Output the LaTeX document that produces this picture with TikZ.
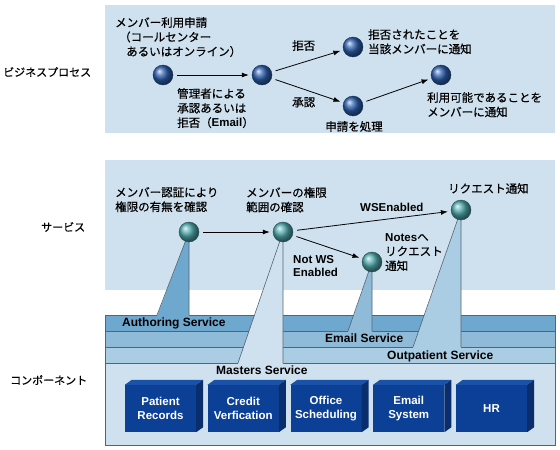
\documentclass[tikz,border=0pt]{standalone}
\usepackage{fontspec}
\setmainfont{Liberation Sans}
\newfontfamily\jp{Noto Sans CJK JP}[FakeBold=0.5]
\usetikzlibrary{arrows.meta}
\definecolor{panelbg}{RGB}{207,225,238}
\definecolor{laya}{RGB}{111,168,207}
\definecolor{laye}{RGB}{143,187,217}
\definecolor{layo}{RGB}{171,205,227}
\definecolor{laym}{RGB}{207,225,238}
\definecolor{edge}{RGB}{85,100,115}
\definecolor{cmpfront}{RGB}{12,64,150}
\definecolor{cmpside}{RGB}{10,45,110}
\definecolor{cmptop}{RGB}{25,82,168}
\definecolor{bpblue}{RGB}{45,95,175}
\definecolor{svteal}{RGB}{80,170,175}
\begin{document}
\begin{tikzpicture}[x=1pt,y=-1pt,
	jlab/.style={anchor=north west,inner sep=0pt,align=left,font=\jp\fontsize{11.5}{14.5}\selectfont},
	elab/.style={anchor=north west,inner sep=0pt,align=left,font=\bfseries\fontsize{11.5}{13}\selectfont},
	laylab/.style={anchor=north west,inner sep=0pt,font=\bfseries\fontsize{12}{14}\selectfont},
	sidelab/.style={anchor=west,inner sep=0pt,font=\jp\fontsize{11}{13}\selectfont},
	bpball/.style={circle,minimum size=20pt,inner sep=0pt,ball color=bpblue,draw=bpblue!50!black,line width=0.4pt},
	svball/.style={circle,minimum size=20pt,inner sep=0pt,ball color=svteal,draw=svteal!45!black,line width=0.4pt},
	cmp/.style={rectangle,fill=cmpfront,text=white,minimum width=71pt,minimum height=47pt,inner sep=0pt,align=center,font=\bfseries\fontsize{11.5}{14.5}\selectfont},
	flow/.style={-{Latex[length=7pt,width=5pt]},line width=0.8pt,shorten <=4pt,shorten >=3pt},
	layline/.style={draw=edge,line width=0.6pt}]
	\useasboundingbox (0,0) rectangle (560,450);
	% panels
	\fill[panelbg] (105,5) rectangle (555,133);
	\fill[panelbg] (105,160) rectangle (555,290);
	\path (3,72)node[sidelab] (lbp){ビジネスプロセス}
	(41,227)node[sidelab] (lsv){サービス}
	(10,380)node[sidelab] (lcp){コンポーネント};
	% component layers
	\filldraw[fill=laym,layline] (105,315) rectangle (555,445);
	\filldraw[fill=layo,layline] (105,347) rectangle (555,363);
	\filldraw[fill=laye,layline] (105,331) rectangle (555,347);
	\filldraw[fill=laya,layline] (105,315) rectangle (555,331);
	% service positions
	\coordinate (s1) at (189,232); \coordinate (s2) at (283,232);
	\coordinate (s3) at (372,262); \coordinate (s4) at (461,210);
	% cones
	\fill[layo] (s4) -- (413,348) -- (461,348) -- cycle;
	\draw[layline] (413,347) -- (s4) -- (461,347);
	\fill[laye] (s3) -- (348,332) -- (372,332) -- cycle;
	\draw[layline] (348,331) -- (s3) -- (372,331);
	\fill[laya] (s1) -- (157,316) -- (189,316) -- cycle;
	\draw[layline] (157,315) -- (s1) -- (189,315);
	\fill[laym] (s2) -- (238,364) -- (283,364) -- cycle;
	\draw[layline] (238,363) -- (s2) -- (283,363);
	\node[laylab] (laut) at (122,318) {Authoring Service};
	\node[laylab] (lem) at (325,334) {Email Service};
	\node[laylab] (lout) at (387,351) {Outpatient Service};
	\node[laylab] (lmas) at (216,366) {Masters Service};
	% components
	\foreach \n/\i/\t in {pr/0/{Patient\\Records},cv/1/{Credit\\Verfication},os/2/{Office\\Scheduling},es/3/{Email\\System},hr/4/{HR}}{
		\node[cmp] (\n) at (160.5+82.75*\i,408.5) {\t};
		\fill[cmptop] (\n.north west) -- ++(7,-5) -- ([shift={(7,-5)}]\n.north east) -- (\n.north east) -- cycle;
		\fill[cmpside] (\n.north east) -- ++(7,-5) -- ([shift={(7,-5)}]\n.south east) -- (\n.south east) -- cycle;
	}
	% business process
	\node[bpball] (b1) at (163,75) {};
	\node[bpball] (b2) at (262,75) {};
	\node[bpball] (b3) at (353,47) {};
	\node[bpball] (b4) at (353,106) {};
	\node[bpball] (b5) at (441,75) {};
	\node[jlab] (lreq) at (115,17) {メンバー利用申請\\\hspace*{4pt}（コールセンター\\\hspace*{11pt}あるいはオンライン）};
	\node[jlab] (ladm) at (177,88) {管理者による\\承認あるいは\\拒否（{\rmfamily\bfseries Email}）};
	\node[jlab] (lrej) at (292,40) {拒否};
	\node[jlab] (lapp) at (292,97) {承認};
	\node[jlab] (lrejn) at (368,29) {拒否されたことを\\当該メンバーに通知};
	\node[jlab,anchor=north] (lproc) at (354,121) {申請を処理};
	\node[jlab] (lavail) at (427,92) {利用可能であることを\\メンバーに通知};
	\draw[flow] (b1) -- (b2);
	\draw[flow] (b2) -- (b3);
	\draw[flow] (b2) -- (b4);
	\draw[flow] (b4) -- (b5);
	% services
	\node[svball] (v1) at (s1) {};
	\node[svball] (v2) at (s2) {};
	\node[svball] (v3) at (s3) {};
	\node[svball] (v4) at (s4) {};
	\node[jlab] (lauth) at (115,187) {メンバー認証により\\権限の有無を確認};
	\node[jlab] (lrange) at (246,187) {メンバーの権限\\範囲の確認};
	\node[jlab] (lnotify) at (448,183) {リクエスト通知};
	\node[elab] (lws) at (360,203) {WSEnabled};
	\node[elab] (lnws) at (293,255) {Not WS\\Enabled};
	\node[jlab] (lnotes) at (385,233) {{\rmfamily\bfseries Notes}へ\\リクエスト\\通知};
	\draw[flow] (v1) -- (v2);
	\draw[flow] (v2) -- (v4);
	\draw[flow] (v2) -- (v3);
\end{tikzpicture}
\end{document}
